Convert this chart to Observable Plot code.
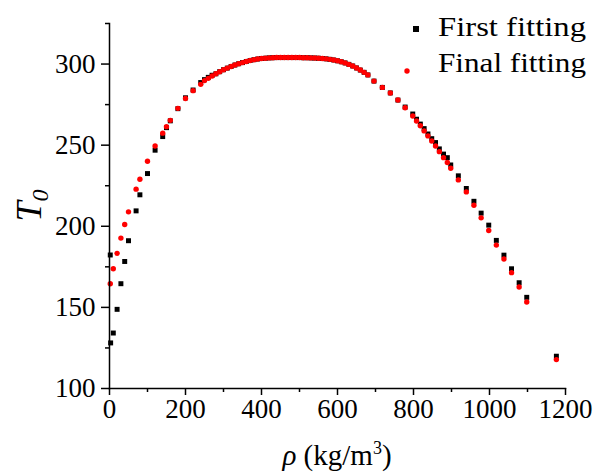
<!DOCTYPE html>
<html><head><meta charset="utf-8">
<script src="https://cdn.jsdelivr.net/npm/d3@7"></script>
<script src="https://cdn.jsdelivr.net/npm/@observablehq/plot@0.6"></script>
<style>body{margin:0;background:#fff} #chart{position:relative;width:593px;height:472px}</style>
</head><body><div id="chart"></div>
<script>
// First fitting (black squares)
const rhoFirst = [2,3,10,20,30,40,50,70,80,100,120,140,150,160,180,200,220,240,
  250,260,270,280,290,300,310,320,330,340,350,360,370,380,390,400,410,420,430,440,450,460,470,480,490,500,510,520,530,540,550,560,570,580,590,600,610,620,630,640,650,660,670,680,
  696,718,739,759,778,798,808,818,828,838,848,858,868,879,889,898,918,939,959,978,998,1018,1038,1058,1078,1098,1176];
const tFirst = [182.3,128.1,134.2,148.8,164.6,178.3,191.1,209.5,219.4,232.5,246.9,255.3,260.8,265.0,272.5,279.2,284.0,288.6,
  290.4,291.8,293.1,294.0,295.3,296.5,297.5,298.5,299.4,300.2,300.9,301.6,302.2,302.7,303.1,303.4,303.6,303.8,303.9,304.0,304.0,304.0,304.0,304.0,304.0,304.0,303.9,303.9,303.8,303.7,303.6,303.4,303.2,302.9,302.5,302.0,301.4,300.7,299.8,298.8,297.6,296.3,294.9,293.3,
  289.5,285.6,282.2,277.8,273.5,269.2,266.0,263.0,260.2,256.9,254.0,251.6,247.7,244.5,242.3,237.8,231.1,223.3,215.4,208.1,200.7,191.3,182.2,173.8,165.2,156.2,119.9];

// Final fitting (red circles)
const rhoFinal = [2,10,20,30,40,50,70,80,100,120,140,150,160,180,200,220,240,
  250,260,270,280,290,300,310,320,330,340,350,360,370,380,390,400,410,420,430,440,450,460,470,480,490,500,510,520,530,540,550,560,570,580,590,600,610,620,630,640,650,660,670,680,
  696,718,739,759,778,798,808,818,828,838,848,858,868,879,889,898,918,939,959,978,998,1018,1038,1058,1078,1098,1176];
const tFinal = [164.6,173.8,183.3,192.7,201.1,208.9,222.9,229.0,240.1,249.5,257.4,261.4,265.3,272.7,278.8,283.6,287.5,
  289.8,291.2,292.6,294.0,295.3,296.5,297.5,298.5,299.4,300.2,300.9,301.6,302.2,302.7,303.1,303.4,303.6,303.8,303.9,304.0,304.0,304.0,304.0,304.0,304.0,304.0,303.9,303.9,303.8,303.7,303.6,303.4,303.2,302.9,302.5,302.0,301.4,300.7,299.8,298.8,297.6,296.3,294.9,293.3,
  289.5,285.6,282.2,277.8,273.1,268.0,264.9,262.0,258.8,255.7,252.6,249.5,246.0,242.3,239.3,235.8,228.6,221.2,213.0,205.2,197.4,188.4,179.8,171.4,162.6,153.3,117.8];

const xTicks = [0,200,400,600,800,1000,1200];
const xMinor = [100,300,500,700,900,1100];
const yTicks = [100,150,200,250,300];
const yMinor = [125,175,225,275,325];
const seriesNames = ["First fitting","Final fitting"];
const seriesColors = ["#000000","#ff0000"];

const firstData = rhoFirst.map((r,i)=>({rho:r, t:tFirst[i]}));
const finalData = rhoFinal.map((r,i)=>({rho:r, t:tFinal[i]}));

const fontFam = "'Liberation Serif', 'Times New Roman', serif";
const chart = Plot.plot({
  width:593, height:472, marginLeft:109, marginRight:28, marginTop:23, marginBottom:84,
  style:{fontFamily:fontFam, fontSize:"27px", color:"#000", background:"#fff", overflow:"visible"},
  x:{domain:[0,1200]}, y:{domain:[100,325]},
  marks:[
    Plot.dot(firstData, {x:"rho", y:"t", symbol:"square", r:2.8, fill:seriesColors[0], stroke:"none"}),
    Plot.dot(finalData, {x:"rho", y:"t", r:2.7, fill:seriesColors[1], stroke:"none"}),
    Plot.axisX({ticks:xTicks, tickSize:7, tickPadding:3, label:null, tickFormat:d=>String(d), strokeWidth:1.5}),
    Plot.axisX({ticks:xMinor, tickSize:4, text:null, label:null, strokeWidth:1.5}),
    Plot.axisY({ticks:yTicks, tickSize:8, tickPadding:6, label:null, tickFormat:d=>String(d), strokeWidth:1.5}),
    Plot.axisY({ticks:yMinor, tickSize:4, text:null, label:null, strokeWidth:1.5}),
    Plot.frame({anchor:"left", strokeWidth:1.5}),
    Plot.frame({anchor:"bottom", strokeWidth:1.5})
  ]
});
document.getElementById("chart").appendChild(chart);

const svg = d3.select(chart);
const xs = chart.scale("x"), ys = chart.scale("y");
const cx = (xs.range[0]+xs.range[1])/2;
const cy = (ys.range[0]+ys.range[1])/2;

// x label
const xl = svg.append("text").attr("x", cx).attr("y", 465).attr("text-anchor","middle")
  .attr("font-size", 29).attr("font-family", fontFam).attr("fill","#000");
xl.append("tspan").attr("font-style","italic").text("ρ");
xl.append("tspan").text(" (kg/m");
xl.append("tspan").attr("dy",-11).attr("font-size",18).text("3");
xl.append("tspan").attr("dy",11).text(")");

// y label
const yl = svg.append("text").attr("transform", `translate(41,${cy}) rotate(-90)`).attr("text-anchor","middle")
  .attr("font-size", 36).attr("font-family", fontFam).attr("font-style","italic").attr("fill","#000");
yl.append("tspan").text("T");
yl.append("tspan").attr("dy",7).attr("font-size",24).text("0");

// legend
const lg = svg.append("g").attr("font-family", fontFam).attr("font-size", 28).attr("fill","#000").attr("text-anchor","start");
lg.append("rect").attr("x",413).attr("y",26).attr("width",6).attr("height",6).attr("fill",seriesColors[0]);
lg.append("circle").attr("cx",407).attr("cy",71).attr("r",2.7).attr("fill",seriesColors[1]);
lg.append("text").attr("x",438).attr("y",36).attr("textLength",148).attr("lengthAdjust","spacingAndGlyphs").text(seriesNames[0]);
lg.append("text").attr("x",438).attr("y",72).attr("textLength",148).attr("lengthAdjust","spacingAndGlyphs").text(seriesNames[1]);
</script>
</body></html>
